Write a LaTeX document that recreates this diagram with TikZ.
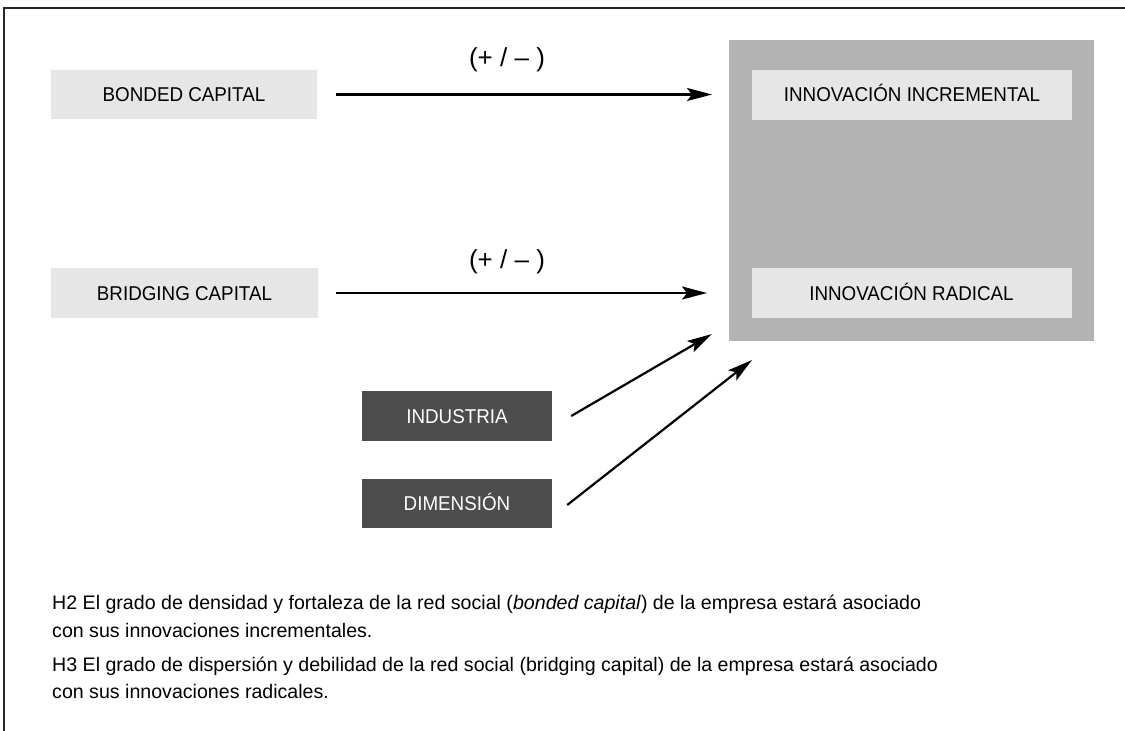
\documentclass[tikz,border=0pt]{standalone}
\usepackage{fontspec}
\setmainfont{Liberation Sans}
\newfontfamily\boxfont{Liberation Sans}[FakeStretch=0.94]
\usetikzlibrary{arrows.meta}
\definecolor{lightbox}{HTML}{E6E6E6}
\definecolor{midgray}{HTML}{B3B3B3}
\definecolor{darkbox}{HTML}{4D4D4D}
\tikzset{
  lbox/.style={fill=lightbox, inner sep=0pt, text height=14.4pt, text depth=0pt,
     font=\boxfont\fontsize{20}{24}\selectfont, text=black},
  dbox/.style={fill=darkbox, inner sep=0pt, text height=14.4pt, text depth=0pt,
     font=\boxfont\fontsize{20}{24}\selectfont, text=white},
  conn/.style={line width=2.2pt, -{Stealth[length=25pt,width=13pt,inset=5pt]}},
  sign/.style={font=\fontsize{26}{30}\selectfont, inner sep=0pt},
  body/.style={font=\fontsize{19.6}{24}\selectfont, inner sep=0pt, anchor=base west},
  frameline/.style={line width=1.3pt, draw=black!85}
}
\begin{document}
\begin{tikzpicture}[x=1pt,y=-1pt]
\useasboundingbox (0,0) rectangle (1125,731);
% frame
\draw[frameline] (4,731) -- (4,8) -- (1125,8);
% outcome block
\node[fill=midgray, minimum width=365pt, minimum height=301pt, inner sep=0pt] (outcome) at (911.5,190.5) {};
\node[lbox, minimum width=320pt, minimum height=50pt] (incr) at (912,94.5) {INNOVACIÓN INCREMENTAL};
\node[lbox, minimum width=320pt, minimum height=50pt] (radi) at (911.5,293) {INNOVACIÓN RADICAL};
% left nodes
\node[lbox, minimum width=266pt, minimum height=49pt] (bonded) at (184,94.5) {BONDED CAPITAL};
\node[lbox, minimum width=267pt, minimum height=50pt] (bridging) at (184.5,293) {BRIDGING CAPITAL};
\node[dbox, minimum width=190pt, minimum height=50pt] (industria) at (457,416) {INDUSTRIA};
\node[dbox, minimum width=190pt, minimum height=49pt] (dimension) at (457,503.5) {DIMENSIÓN};
% arrow ends
\coordinate (e1) at (712,94.5);
\coordinate (e2) at (707,293);
\coordinate (e3) at (712,334);
\coordinate (e4) at (752,360);
\draw[conn] ([xshift=19pt]bonded.east) -- (e1);
\draw[conn] ([xshift=18pt]bridging.east) -- (e2);
\draw[conn] ([xshift=19pt]industria.east) -- (e3);
\draw[conn] ([xshift=15pt,yshift=-1.5pt]dimension.east) -- (e4);
% signs
\node[sign] (s1) at (507,60) {(+ / – )};
\node[sign] (s2) at (507,262) {(+ / – )};
% hypotheses
\node[body] (h2a) at (52,609) {H2 El grado de densidad y fortaleza de la red social (\textit{bonded capital}) de la empresa estará asociado};
\node[body] (h2b) at (52,637) {con sus innovaciones incrementales.};
\node[body] (h3a) at (52,671) {H3 El grado de dispersión y debilidad de la red social (bridging capital) de la empresa estará asociado};
\node[body] (h3b) at (52,698) {con sus innovaciones radicales.};
\end{tikzpicture}
\end{document}
